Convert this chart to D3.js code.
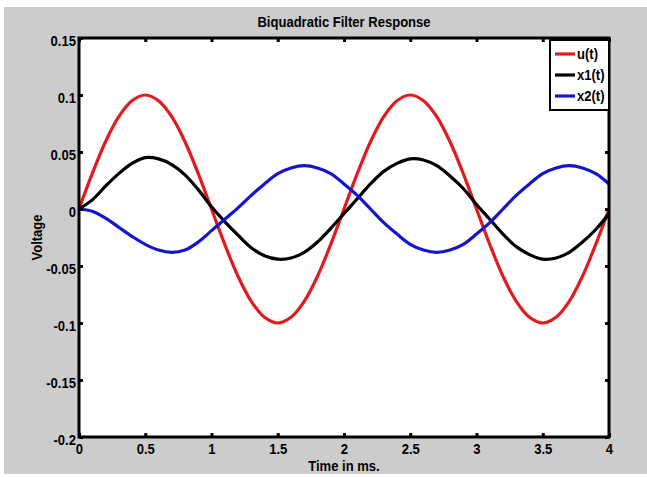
<!DOCTYPE html>
<html>
<head>
<meta charset="utf-8">
<script src="https://cdn.jsdelivr.net/npm/d3@7"></script>
<style>
  body { margin: 0; background: #fff; }
  text { font-family: "Liberation Sans", Arial, sans-serif; font-weight: bold; fill: #000; }
</style>
</head>
<body>
<div id="chart"></div>
<script>
// time samples (ms) and series
const time = d3.range(41).map(i => +(i / 10).toFixed(1))

const u = [0, .031, .059, .081, .095, .100, .095, .081, .059, .031,
  0, -.031, -.059, -.081, -.095, -.100, -.095, -.081, -.059, -.031,
  0, .031, .059, .081, .095, .100, .095, .081, .059, .031,
  0, -.031, -.059, -.081, -.095, -.100, -.095, -.081, -.059, -.031, 0]

const x1 = [0, .008, .020, .031, .040, .045, .044, .039, .030, .017,
  .002, -.011, -.023, -.034, -.041, -.044, -.043, -.038, -.029, -.017,
  -.004, .009, .022, .033, .040, .044, .043, .038, .029, .018,
  .004, -.009, -.022, -.033, -.040, -.044, -.043, -.038, -.029, -.018, -.004]

const x2 = [0, -.002, -.008, -.016, -.024, -.031, -.036, -.038, -.036, -.029,
  -.019, -.009, .001, .012, .022, .031, .036, .038, .036, .031,
  .022, .012, .000, -.012, -.022, -.031, -.036, -.038, -.036, -.031,
  -.022, -.012, .000, .012, .022, .031, .036, .038, .036, .031, .022]

const seriesNames  = ['u(t)', 'x1(t)', 'x2(t)'],
      seriesColors = ['#e11a1d', '#000000', '#1414cf'],
      seriesValues = [u, x1, x2]

const xTicks = [0, 0.5, 1, 1.5, 2, 2.5, 3, 3.5, 4],
      yTicks = [0.15, 0.1, 0.05, 0, -0.05, -0.1, -0.15, -0.2]

const W = 647, H = 477,
      m = { l: 79, t: 38, r: 609, b: 437 },
      sx = 0.87 // text looks squeezed sideways in the picture

let svg = d3.select('#chart').append('svg')
      .attr('width', W)
      .attr('height', H)

// gray figure background
svg.append('rect')
  .attr('x', 4).attr('y', 7)
  .attr('width', W - 4).attr('height', 467)
  .attr('fill', '#cccccc')

let x = d3.scaleLinear().domain([0, 4]).range([m.l, m.r]),
    y = d3.scaleLinear().domain([-0.2, 0.15]).range([m.b, m.t])

svg.append('rect')
  .attr('x', m.l).attr('y', m.t)
  .attr('width', m.r - m.l).attr('height', m.b - m.t)
  .attr('fill', '#fff')

svg.append('clipPath').attr('id', 'plot-clip')
  .append('rect')
  .attr('x', m.l).attr('y', m.t)
  .attr('width', m.r - m.l).attr('height', m.b - m.t)

// curves
let line = d3.line().curve(d3.curveCatmullRom)
let gc = svg.append('g').attr('clip-path', 'url(#plot-clip)')
seriesValues.forEach((vals, k) => {
  gc.append('path')
    .datum(time.map((t, i) => [t, vals[i]]))
    .attr('fill', 'none')
    .attr('stroke', seriesColors[k])
    .attr('stroke-width', 3.2)
    .attr('stroke-linejoin', 'round')
    .attr('d', line.x(d => x(d[0])).y(d => y(d[1])))
})

// axes, ticks pointing inward
function _axis(a, tr, labels) {
  let g = svg.append('g')
    .attr('transform', tr)
    .call(a.tickSizeInner(-4).tickSizeOuter(0)
      .tickFormat(labels ? d => String(d) : ''))
  g.select('.domain').remove()
  g.selectAll('.tick line').attr('stroke', '#000').attr('stroke-width', 3)
  g.selectAll('text').attr('font-size', 15)
  return g
}

let gb = _axis(d3.axisBottom(x).tickValues(xTicks), `translate(0,${m.b})`, true)
gb.selectAll('text')
  .attr('y', 0).attr('dy', '0.71em')
  .attr('transform', `translate(0,6) scale(${sx},1)`)

_axis(d3.axisTop(x).tickValues(xTicks), `translate(0,${m.t})`, false)

let gl = _axis(d3.axisLeft(y).tickValues(yTicks), `translate(${m.l},0)`, true)
gl.selectAll('text')
  .attr('x', 0).attr('dy', '0.36em')
  .attr('transform', `translate(-3,2) scale(${sx},1)`)

_axis(d3.axisRight(y).tickValues(yTicks), `translate(${m.r},0)`, false)

// box
svg.append('rect')
  .attr('x', m.l).attr('y', m.t)
  .attr('width', m.r - m.l).attr('height', m.b - m.t)
  .attr('fill', 'none')
  .attr('stroke', '#000')
  .attr('stroke-width', 3)

// labels
function _text(px, py, s, rot) {
  return svg.append('text')
    .attr('transform', `translate(${px},${py})` + (rot ? ` rotate(${rot})` : '') + ` scale(${sx},1)`)
    .attr('text-anchor', 'middle')
    .attr('font-size', 15)
    .text(s)
}
_text((m.l + m.r) / 2, 27, 'Biquadratic Filter Response')
_text((m.l + m.r) / 2, 471, 'Time in ms.')
_text(42, (m.t + m.b) / 2, 'Voltage', -90)

// legend
let lg = svg.append('g')
lg.append('rect')
  .attr('x', 550).attr('y', 40)
  .attr('width', 59).attr('height', 70)
  .attr('fill', '#fff')
  .attr('stroke', '#000')
  .attr('stroke-width', 2)

seriesNames.forEach((n, k) => {
  let ly = 54 + k * 21
  lg.append('line')
    .attr('x1', 555).attr('x2', 575)
    .attr('y1', ly).attr('y2', ly)
    .attr('stroke', seriesColors[k])
    .attr('stroke-width', 3.2)
  lg.append('text')
    .attr('transform', `translate(577,${ly}) scale(${sx},1)`)
    .attr('dy', '0.36em')
    .attr('font-size', 15)
    .text(n)
})
</script>
</body>
</html>
